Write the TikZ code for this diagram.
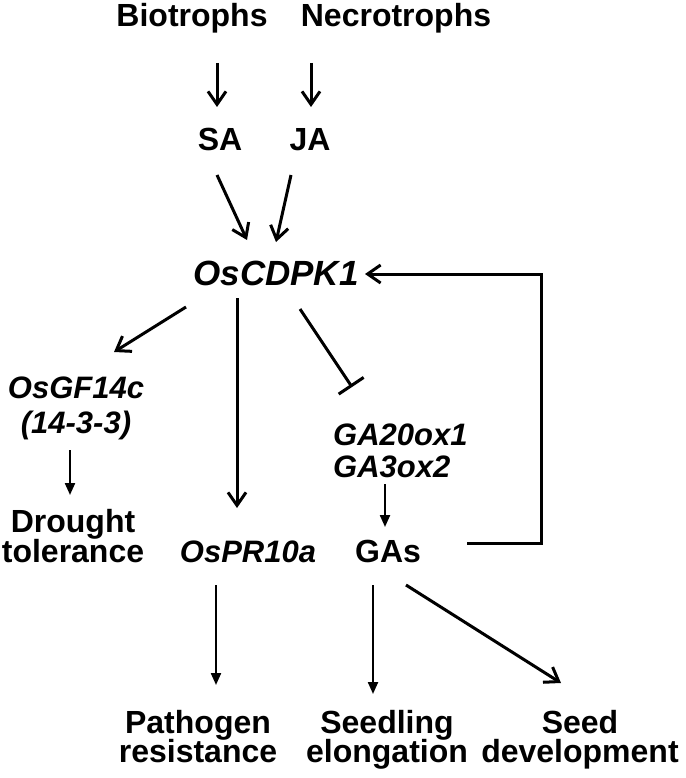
\documentclass[tikz,border=0pt]{standalone}
\usepackage{fontspec}
\setmainfont{Liberation Sans}
\usetikzlibrary{arrows.meta,calc}
\lineskiplimit=-100pt
\tikzset{
  txt/.style={inner sep=0pt, anchor=base, align=center, font=\fontsize{32}{32}\selectfont\bfseries},
  gene/.style={inner sep=0pt, anchor=base, align=center, font=\fontsize{31}{32}\selectfont\bfseries\itshape},
  varrow/.style={line width=3pt, -{Straight Barb[length=13pt,width=18pt]}},
  tarrow/.style={line width=2.2pt, -{Triangle[length=12pt,width=10pt]}},
  inhib/.style={line width=3pt, -{Bar[width=30pt]}},
}
\begin{document}
\begin{tikzpicture}[x=1pt,y=-1pt]
\useasboundingbox (0,0) rectangle (685,778);
% nodes (multi-line nodes: base = last line)
\node[txt] (Bio) at (192,27) {Biotrophs};
\node[txt] (Nec) at (396,27) {Necrotrophs};
\node[txt] (SA) at (220,150) {SA};
\node[txt] (JA) at (310,150) {JA};
\node[gene, font=\fontsize{35}{35}\selectfont\bfseries\itshape] (Cdpk) at (276,285) {OsCDPK1};
\node[gene, font=\fontsize{31}{35}\selectfont\bfseries\itshape] (Gf) at (76,433) {OsGF14c\\(14-3-3)};
\node[txt, font=\fontsize{32}{30}\selectfont\bfseries] (Dr) at (73,562) {Drought\\tolerance};
\node[gene] (PR) at (248,562) {OsPR10a};
\node[gene, anchor=base west, align=left] (GAg) at (333,477) {GA20ox1\\GA3ox2};
\node[txt] (GAs) at (388,562) {GAs};
\node[txt, font=\fontsize{32}{29}\selectfont\bfseries] (Path) at (198,762) {Pathogen\\resistance};
\node[txt, font=\fontsize{32}{29}\selectfont\bfseries] (Seedl) at (387,762) {Seedling\\elongation};
\node[txt, font=\fontsize{32}{29}\selectfont\bfseries] (SeedD) at (580,762) {Seed\\development};
% connectors
\draw[varrow] ($(Bio.base)+(25,36)$) -- ($(SA.base)+(-3,-43)$);
\draw[varrow] ($(Nec.base)+(-85,36)$) -- ($(JA.base)+(1,-43)$);
\draw[varrow] ($(SA.base)+(-3,25)$) -- ($(Cdpk.base)+(-29,-45)$);
\draw[varrow] ($(JA.base)+(-19,25)$) -- ($(Cdpk.base)+(0,-43)$);
\draw[varrow] ($(Cdpk.base)+(-90,22)$) -- ($(Gf.base)+(38,-81)$);
\draw[varrow] ($(Cdpk.base)+(-39,13)$) -- ($(PR.base)+(-11,-54)$);
\draw[inhib] ($(Cdpk.base)+(24,24)$) -- ($(GAg.base west)+(19,-90)$);
\draw[tarrow] ($(Gf.base)+(-6,17)$) -- ($(Dr.base)+(-3,-67)$);
\draw[tarrow] ($(GAg.base west)+(52,7)$) -- ($(GAs.base)+(-3,-35)$);
\draw[varrow] ($(GAs.base)+(79,-19)$) -- ++(74,0) |- ($(Cdpk.base)+(89,-11)$);
\draw[tarrow] ($(PR.base)+(-32,23)$) -- ($(Path.base)+(18,-77)$);
\draw[tarrow] ($(GAs.base)+(-15,23)$) -- ($(Seedl.base)+(-14,-68)$);
\draw[varrow] ($(GAs.base)+(18,23)$) -- ($(SeedD.base)+(-19,-79)$);
\end{tikzpicture}
\end{document}
